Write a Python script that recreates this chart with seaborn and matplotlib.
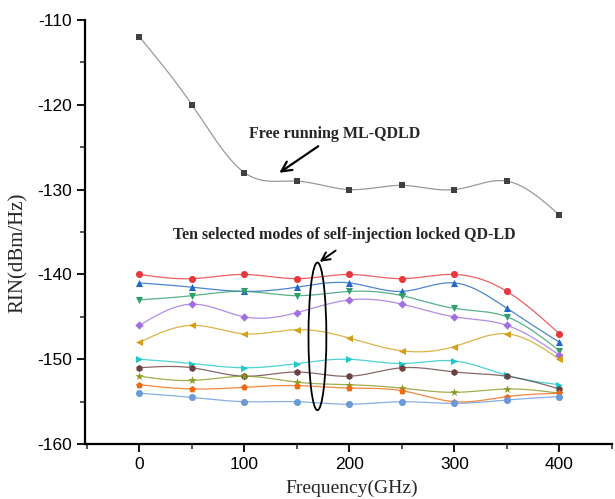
import numpy as np
import pandas as pd
import matplotlib
matplotlib.use("Agg")
import matplotlib.pyplot as plt
import seaborn as sns
from matplotlib.patches import Ellipse

# ---------------- data ----------------
freq = [0, 50, 100, 150, 200, 250, 300, 350, 400]
free_running = [-112, -120, -128, -129, -130, -129.5, -130, -129, -133]

mode_1 = [-140, -140.5, -140, -140.5, -140, -140.5, -140, -142, -147]
mode_2 = [-141, -141.5, -142, -141.5, -141, -142, -141, -144, -148]
mode_3 = [-143, -142.5, -142, -142.5, -142, -142.5, -144, -145, -149]
mode_4 = [-146, -143.5, -145, -144.5, -143, -143.5, -145, -146, -149.5]
mode_5 = [-148, -146, -147, -146.5, -147.5, -149, -148.5, -147, -150]
mode_6 = [-150, -150.5, -151, -150.5, -150, -150.5, -150.2, -151.9, -153]
mode_7 = [-151, -151, -152, -151.5, -152, -151, -151.5, -152, -153.5]
mode_8 = [-152, -152.5, -152, -152.7, -153, -153.4, -153.9, -153.5, -154]
mode_9 = [-153, -153.5, -153.3, -153.1, -153.4, -153.7, -155, -154.4, -154]
mode_10 = [-154, -154.5, -155, -155, -155.3, -155, -155.2, -154.8, -154.4]

modes = [mode_1, mode_2, mode_3, mode_4, mode_5, mode_6, mode_7, mode_8, mode_9, mode_10]
mode_names = [f"Mode {i}" for i in range(1, 11)]
mode_colors = ["#E8383D", "#1F66C8", "#2E9E6B", "#A070E0", "#D4A017",
               "#20C8C8", "#6B4040", "#8A9A20", "#F06A10", "#6A9AD8"]
mode_markers = ["o", "^", "v", "D", "<", ">", "h", "*", "p", "o"]

x_ticks = [0, 100, 200, 300, 400]
y_ticks = [-160, -150, -140, -130, -120, -110]

free_label = "Free running ML-QDLD"
modes_label = "Ten selected modes of self-injection locked QD-LD"
x_label = "Frequency(GHz)"
y_label = "RIN(dBm/Hz)"


def natural_spline(x, y, num=300):
    x = np.asarray(x, float)
    y = np.asarray(y, float)
    n = len(x)
    h = np.diff(x)
    A = np.zeros((n, n))
    b = np.zeros(n)
    A[0, 0] = A[-1, -1] = 1
    for i in range(1, n - 1):
        A[i, i - 1] = h[i - 1]
        A[i, i] = 2 * (h[i - 1] + h[i])
        A[i, i + 1] = h[i]
        b[i] = 3 * ((y[i + 1] - y[i]) / h[i] - (y[i] - y[i - 1]) / h[i - 1])
    c = np.linalg.solve(A, b)
    xs = np.linspace(x[0], x[-1], num)
    idx = np.clip(np.searchsorted(x, xs) - 1, 0, n - 2)
    dx = xs - x[idx]
    bc = (y[1:] - y[:-1]) / h - h * (2 * c[:-1] + c[1:]) / 3
    d = (c[1:] - c[:-1]) / (3 * h)
    ys = y[idx] + bc[idx] * dx + c[idx] * dx ** 2 + d[idx] * dx ** 3
    return xs, ys


sns.set_theme(style="ticks")
plt.rcParams["font.family"] = ["Liberation Sans", "DejaVu Sans"]
plt.rcParams["axes.unicode_minus"] = False

fig = plt.figure(figsize=(6.15, 4.99), dpi=100)
ax = fig.add_axes([0.138, 0.110, 0.857, 0.850])

# smoothed lines
rows = []
xs, ys = natural_spline(freq, free_running)
rows.append(pd.DataFrame({"f": xs, "rin": ys, "series": "Free"}))
for name, vals in zip(mode_names, modes):
    xs, ys = natural_spline(freq, vals)
    rows.append(pd.DataFrame({"f": xs, "rin": ys, "series": name}))
smooth_df = pd.concat(rows, ignore_index=True)

palette = {"Free": "#808080"}
palette.update({n: c for n, c in zip(mode_names, mode_colors)})
sns.lineplot(data=smooth_df, x="f", y="rin", hue="series", palette=palette,
             linewidth=0.9, legend=False, ax=ax, estimator=None, sort=False,
             alpha=0.8, zorder=2)

# markers
sns.scatterplot(x=freq, y=free_running, marker="s", color="#404040", s=16,
                linewidth=0, ax=ax, zorder=3)
for vals, c, m in zip(modes, mode_colors, mode_markers):
    size = 40 if m == "*" else (18 if m == "D" else 26)
    sns.scatterplot(x=freq, y=vals, marker=m, color=c, s=size, linewidth=0,
                    ax=ax, zorder=3)

ax.set_xlim(-52, 450)
ax.set_ylim(-160, -110)
ax.set_xticks(x_ticks)
ax.set_yticks(y_ticks)
ax.set_xticks(np.arange(-50, 451, 50), minor=True)
ax.set_yticks(np.arange(-160, -109, 5), minor=True)
ax.tick_params(axis="both", which="major", direction="out", length=6, width=1.3,
               labelsize=12.5, colors="black", pad=3)
ax.tick_params(axis="both", which="minor", direction="out", length=3.5, width=1.1)
for s in ["top", "right"]:
    ax.spines[s].set_visible(False)
for s in ["left", "bottom"]:
    ax.spines[s].set_linewidth(1.6)
    ax.spines[s].set_color("black")

serif = ["Liberation Serif", "DejaVu Serif"]
ax.set_xlabel(x_label, fontsize=14, family=serif)
ax.set_ylabel(y_label, fontsize=15, family=serif)
ax.xaxis.set_label_coords(0.506, -0.083)
ax.yaxis.set_label_coords(-0.108, 0.45)

# annotations
ax.text(186, -123.4, free_label, ha="center", va="center", fontsize=11.5,
        fontweight="bold", family=serif)
ax.annotate("", xy=(131, -128.2), xytext=(172.5, -124.7),
            arrowprops=dict(arrowstyle="->,head_length=0.6,head_width=0.3",
                            lw=1.6, color="black"))
ax.text(195, -135.3, modes_label, ha="center", va="center", fontsize=11.5,
        fontweight="bold", family=serif)
ax.annotate("", xy=(169.5, -138.7), xytext=(189, -137.0),
            arrowprops=dict(arrowstyle="->,head_length=0.5,head_width=0.25",
                            lw=1.4, color="black"))
ax.add_patch(Ellipse((169.5, -147.3), width=17, height=17.4, fill=False,
                     lw=1.3, ec="black", zorder=4))

fig.savefig("out.png", dpi=100)
